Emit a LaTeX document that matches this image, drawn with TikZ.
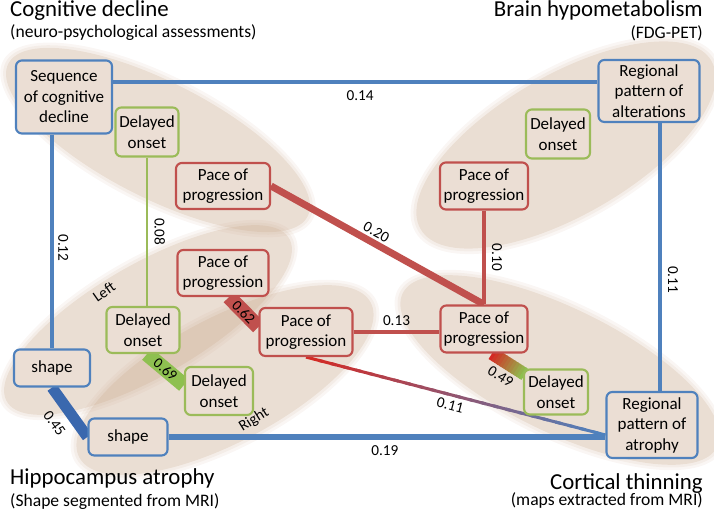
\documentclass[tikz,border=0pt]{standalone}
\usepackage{fontspec}
\setmainfont{Carlito}
\usetikzlibrary{calc}
\definecolor{cblue}{HTML}{4F81BD}
\definecolor{cdkblue}{HTML}{3A68AE}
\definecolor{cred}{HTML}{C0504D}
\definecolor{cgreen}{HTML}{9BBB59}
\definecolor{cbargreen}{HTML}{8EC050}
\definecolor{cgradred}{HTML}{D42A24}
\definecolor{ctan}{RGB}{196,160,130}
\definecolor{boxfill}{RGB}{235,222,212}
\pgfdeclarelayer{bg}
\pgfdeclarelayer{links}
\pgfsetlayers{bg,links,main}
\newcommand\boxfont{\fontsize{14.5}{17.5}\selectfont}
\newcommand\subfont{\fontsize{15}{18}\selectfont}
\newcommand\lblfont{\fontsize{13}{15}\selectfont}
\newcommand\titlefont{\fontsize{19.5}{23}\selectfont}
\tikzset{
  box/.style={rounded corners=5pt, line width=1.8pt, fill=boxfill,
    align=center, inner sep=1pt, font=\boxfont},
  bluebox/.style={box, draw=cblue},
  redbox/.style={box, draw=cred},
  greenbox/.style={box, draw=cgreen},
  wt/.style={font=\lblfont, text=black, inner sep=5.5pt},
  bartxt/.style={font=\fontsize{12.5}{14}\selectfont, text=black, inner sep=0pt, sloped},
  title/.style={font=\titlefont, inner sep=0pt},
  subtitle/.style={font=\subfont, inner sep=0pt},
}

\begin{document}
\begin{tikzpicture}[x=0.03cm, y=-0.03cm]
  \useasboundingbox (0,0) rectangle (714,516);

  % ---- Background blobs (one per modality) ---------------------
  \begin{pgfonlayer}{bg}
    \foreach \cx/\cy/\rx/\ry/\ang in {158/140/168/58/-27, 566/145/168/70/30,
        148/320/163/56/30, 225/380/165/62/28, 560/370/175/62/-26}{
      \foreach \d/\op in {6/0.09, 3/0.10, 0/0.20}{
        \fill[ctan, fill opacity=\op, rotate around={\ang:(\cx,\cy)}]
          (\cx,\cy) ellipse [x radius=\rx+\d, y radius=\ry+\d];
      }
    }
  \end{pgfonlayer}

  % ---- Titles --------------------------------------------------
  \node[title, anchor=base west] (ttlcog) at (10,17) {Cognitive decline};
  \node[subtitle, anchor=base west] (subcog) at (10,38) {(neuro-psychological assessments)};
  \node[title, anchor=base east] (ttlbrain) at (703,17) {Brain hypometabolism};
  \node[subtitle, anchor=base east] (subbrain) at (703,39) {(FDG-PET)};
  \node[title, anchor=base west] (ttlhip) at (10,485) {Hippocampus atrophy};
  \node[subtitle, anchor=base west] (subhip) at (10,507) {(Shape segmented from MRI)};
  \node[title, anchor=base east] (ttlcort) at (703,490) {Cortical thinning};
  \node[subtitle, anchor=base east] (subcort) at (703,506) {(maps extracted from MRI)};

  % ============================================================
  %  Nodes
  % ============================================================
  % Cognitive decline
  \node[bluebox, minimum width=2.88cm, minimum height=2.19cm] (seq) at (64,97) {Sequence\\of cognitive\\decline};
  \node[greenbox, minimum width=1.89cm, minimum height=1.47cm] (don1) at (147,132) {Delayed\\onset};
  \node[redbox, minimum width=2.82cm, minimum height=1.38cm] (pace1) at (223,186) {Pace of\\progression};
  % Brain hypometabolism
  \node[bluebox, minimum width=3.03cm, minimum height=1.86cm] (regalt) at (649,91) {Regional\\pattern of\\alterations};
  \node[greenbox, minimum width=1.92cm, minimum height=1.47cm] (don2) at (558,134) {Delayed\\onset};
  \node[redbox, minimum width=2.64cm, minimum height=1.41cm] (pace2) at (484,186) {Pace of\\progression};
  % Hippocampus, left
  \node[redbox, minimum width=2.73cm, minimum height=1.38cm] (pace3) at (223,273) {Pace of\\progression};
  \node[greenbox, minimum width=2.19cm, minimum height=1.38cm] (don3) at (143,330) {Delayed\\onset};
  \node[bluebox, minimum width=2.28cm, minimum height=1.11cm] (shapeL) at (52,368) {shape};
  % Hippocampus, right
  \node[redbox, minimum width=2.79cm, minimum height=1.44cm] (pace4) at (306,332) {Pace of\\progression};
  \node[greenbox, minimum width=2.04cm, minimum height=1.44cm] (don4) at (219,391) {Delayed\\onset};
  \node[bluebox, minimum width=2.37cm, minimum height=1.11cm] (shapeB) at (128,437) {shape};
  % Cortical thinning
  \node[redbox, minimum width=2.61cm, minimum height=1.41cm] (pace5) at (484,329) {Pace of\\progression};
  \node[greenbox, minimum width=1.92cm, minimum height=1.35cm] (don5) at (556,392) {Delayed\\onset};
  \node[bluebox, minimum width=2.73cm, minimum height=1.98cm] (regatr) at (652,425) {Regional\\pattern of\\atrophy};

  % Side labels
  \node[font=\lblfont, rotate=35] (lleft) at (104,292) {Left};
  \node[font=\lblfont, rotate=32] (lright) at (254,420) {Right};

  % ============================================================
  %  Links
  % ============================================================
  \begin{pgfonlayer}{links}
    % outer frame
    \path ($(seq.north east)!0.3!(seq.south east)$) coordinate (s1);
    \draw[cblue, line width=3pt] (s1) -- (s1 -| regalt.west)
      node[wt, below, pos=0.51] {0.14};
    \draw[cblue, line width=2.6pt] (shapeL.north |- seq.south) -- (shapeL.north)
      node[wt, sloped, above, pos=0.53, inner sep=4pt] {0.12};
    \path ($(regalt.south)+(11,0)$) coordinate (r1);
    \draw[cblue, line width=2.6pt] (r1) -- (r1 |- regatr.north)
      node[wt, sloped, above, pos=0.585] {0.11};
    \draw[cblue, line width=4.3pt] (shapeB.east) -- (shapeB.east -| regatr.west)
      node[wt, below, pos=0.495] {0.19};
    % within / across modalities
    \draw[cgreen, line width=1.7pt] (don1.south) -- (don1.south |- don3.north)
      node[wt, sloped, above, midway] {0.08};
    \draw[cred, line width=6pt] (pace1.east) -- (pace5.north)
      node[wt, sloped, above, pos=0.47, inner sep=2pt] {0.20};
    \draw[cred, line width=2.6pt] (pace2.south) -- (pace5.north)
      node[wt, sloped, above, midway] {0.10};
    \draw[cred, line width=3.4pt] (pace4.east) -- (pace4.east -| pace5.west)
      node[wt, above, midway, inner sep=3.5pt] {0.13};
    % red-to-blue link
    \path (pace4.south) coordinate (g0) ($(regatr.west)+(0,10)$) coordinate (g1);
    \foreach \i in {0,...,23}{
      \pgfmathsetmacro\mix{100-\i*100/23}
      \pgfmathsetmacro\e{min((\i+1.4)/24,1)}
      \draw[cgradred!\mix!cblue, line width=2.6pt]
        ($(g0)!\i/24!(g1)$) -- ($(g0)!\e!(g1)$);
    }
    \path (g0) -- (g1) node[wt, sloped, below, pos=0.49, inner sep=4pt] {0.11};
    % left / right bars
    \draw[cdkblue, line width=9.4pt] (shapeL.south) -- (shapeB.west)
      node[wt, sloped, below, midway, inner sep=7pt] {0.45};
    \draw[cred, line width=12.8pt] ($(pace3.south)+(6,0)$) -- ($(pace4.west)+(0,-5)$)
      node[bartxt, midway] {0.62};
    \draw[cbargreen, line width=12.8pt] ($(don3.south)+(4,0)$) -- ($(don4.west)+(0,-6)$)
      node[bartxt, midway] {0.69};
    % red-to-green bar
    \path ($(pace5.south)+(8,0)$) coordinate (h0) ($(don5.north west)+(2,6)$) coordinate (h1);
    \foreach \i in {0,...,11}{
      \pgfmathsetmacro\mix{100-\i*100/11}
      \pgfmathsetmacro\e{min((\i+1.4)/12,1)}
      \draw[cgradred!\mix!cbargreen, line width=11pt]
        ($(h0)!\i/12!(h1)$) -- ($(h0)!\e!(h1)$);
    }
    \path (h0) -- (h1) node[wt, sloped, below, midway, inner sep=8pt] {0.49};
  \end{pgfonlayer}

\end{tikzpicture}
\end{document}
